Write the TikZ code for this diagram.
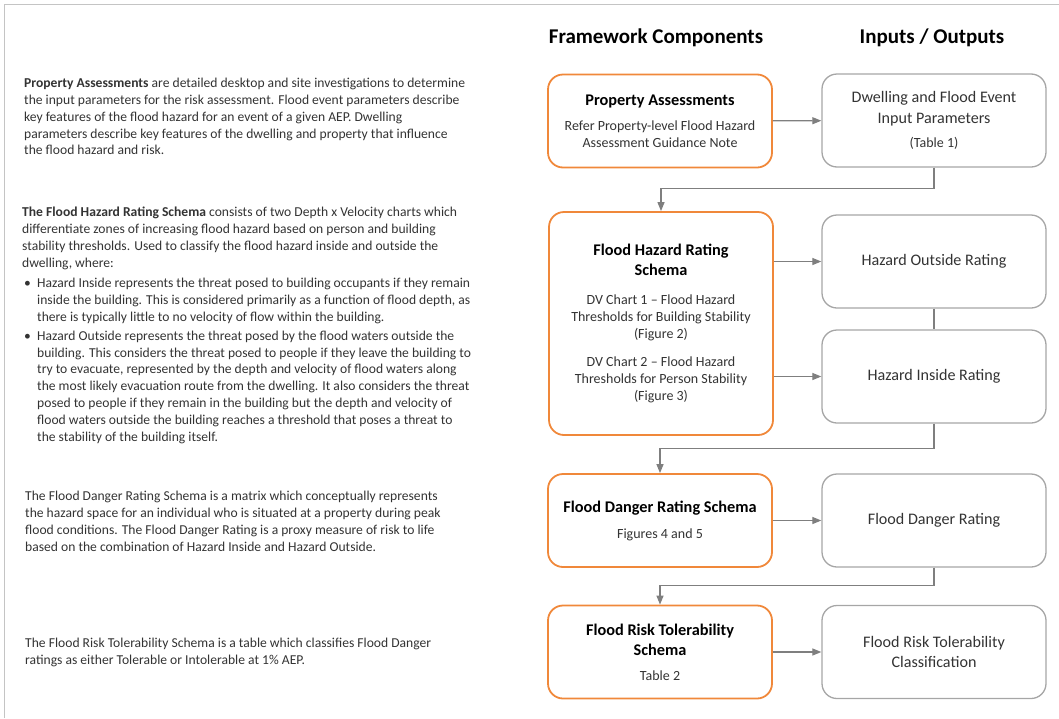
\documentclass[tikz,border=0pt]{standalone}
\usepackage{fontspec}
\setmainfont{Carlito}
\usetikzlibrary{arrows.meta}
\definecolor{orangeln}{HTML}{F0883A}
\definecolor{greyln}{HTML}{A6A6A6}
\definecolor{arrowgrey}{HTML}{7F7F7F}
\definecolor{textgrey}{HTML}{333333}
\definecolor{framegrey}{HTML}{C4C4C4}
\newcommand{\bodyfnt}{\fontsize{13.6}{16.8}\selectfont}
\newcommand{\boxfnt}{\fontsize{14}{17}\selectfont}
\newcommand{\ttlfnt}{\fontsize{16.3}{19.5}\selectfont\bfseries}
\newcommand{\iofnt}{\fontsize{16.1}{20.5}\selectfont}
\newcommand{\bull}{\makebox[15pt][l]{\hspace{2pt}\textbullet}}
\newcommand{\hang}{\hspace*{15pt}}

\begin{document}
\begin{tikzpicture}[x=1pt,y=-1pt,
  comp/.style={draw=orangeln,line width=1.8pt,rounded corners=15pt,
    minimum width=224pt,minimum height=93pt,inner sep=0pt,
    align=center,text=textgrey,font=\boxfnt},
  iobox/.style={draw=greyln,line width=1.3pt,rounded corners=15pt,
    minimum width=224pt,minimum height=93pt,inner sep=0pt,
    align=center,text=textgrey,font=\iofnt},
  header/.style={font=\fontsize{21}{24}\selectfont\bfseries},
  para/.style={anchor=north west,align=left,inner sep=0pt,
    text=textgrey,font=\bodyfnt},
  conn/.style={draw=arrowgrey,line width=1.2pt},
  arr/.style={conn,-{Triangle[length=9pt,width=7pt]}}]
  \useasboundingbox (0,0) rectangle (1059,718);
  \draw[framegrey,line width=1pt] (4,718) -- (4,4) -- (1059,4);

  % column headers
  \node[header] (hdcomp) at (656,38) {Framework Components};
  \node[header] (hdio) at (932,38) {Inputs / Outputs};

  % descriptions on the left
  \node[para] (txtpa) at (24,78)
    {\textbf{Property Assessments} are detailed desktop and site investigations to determine\\
     the input parameters for the risk assessment. Flood event parameters describe\\
     key features of the flood hazard for an event of a given AEP. Dwelling\\
     parameters describe key features of the dwelling and property that influence\\
     the flood hazard and risk.};
  \node[para] (txtfhrs) at (22,207)
    {\textbf{The Flood Hazard Rating Schema} consists of two Depth x Velocity charts which\\
     differentiate zones of increasing flood hazard based on person and building\\
     stability thresholds. Used to classify the flood hazard inside and outside the\\
     dwelling, where:\\[3.5pt]
     \bull Hazard Inside represents the threat posed to building occupants if they remain\\
     \hang inside the building. This is considered primarily as a function of flood depth, as\\
     \hang there is typically little to no velocity of flow within the building.\\[2.5pt]
     \bull Hazard Outside represents the threat posed by the flood waters outside the\\
     \hang building. This considers the threat posed to people if they leave the building to\\
     \hang try to evacuate, represented by the depth and velocity of flood waters along\\
     \hang the most likely evacuation route from the dwelling. It also considers the threat\\
     \hang posed to people if they remain in the building but the depth and velocity of\\
     \hang flood waters outside the building reaches a threshold that poses a threat to\\
     \hang the stability of the building itself.};
  \node[para] (txtfdrs) at (25,491)
    {The Flood Danger Rating Schema is a matrix which conceptually represents\\
     the hazard space for an individual who is situated at a property during peak\\
     flood conditions. The Flood Danger Rating is a proxy measure of risk to life\\
     based on the combination of Hazard Inside and Hazard Outside.};
  \node[para] (txtfrts) at (25,638)
    {The Flood Risk Tolerability Schema is a table which classifies Flood Danger\\
     ratings as either Tolerable or Intolerable at 1\% AEP.};

  % framework components
  \node[comp] (pa) at (660,121)
    {{\ttlfnt\color{black}Property Assessments}\\[8pt]
     Refer Property-level Flood Hazard\\Assessment Guidance Note};
  \node[comp,minimum height=223pt] (fhrs) at (661,323.5)
    {{\ttlfnt\color{black}Flood Hazard Rating}\\[2.5pt]
     {\ttlfnt\color{black}Schema}\\[12pt]
     DV Chart 1 -- Flood Hazard\\Thresholds for Building Stability\\(Figure 2)\\[11pt]
     DV Chart 2 -- Flood Hazard\\Thresholds for Person Stability\\(Figure 3)};
  \node[comp] (fdrs) at (660,520.5)
    {{\ttlfnt\color{black}Flood Danger Rating Schema}\\[9pt]
     Figures 4 and 5};
  \node[comp] (frts) at (660,652)
    {{\ttlfnt\color{black}Flood Risk Tolerability}\\[3pt]
     {\ttlfnt\color{black}Schema}\\[8pt]
     Table 2};

  % inputs and outputs
  \node[iobox] (dfe) at (934,120.5)
    {Dwelling and Flood Event\\Input Parameters\\[4pt]{\boxfnt (Table 1)}};
  \node[iobox] (ho) at (934,261.5) {Hazard Outside Rating};
  \node[iobox] (hi) at (934,376.5) {Hazard Inside Rating};
  \node[iobox] (fdr) at (934,520.5) {Flood Danger Rating};
  \node[iobox] (frtc) at (934,652) {Flood Risk Tolerability\\Classification};

  % connectors
  \draw[arr] (pa) -- (dfe);
  \draw[arr] (dfe.south) -- ++(0,21) -| (fhrs.north);
  \draw[arr] (fhrs.east |- ho) -- (ho);
  \draw[arr] (fhrs.east |- hi) -- (hi);
  \draw[conn] (ho) -- (hi);
  \draw[arr] (hi.south) -- ++(0,25) -| (fdrs.north);
  \draw[arr] (fdrs) -- (fdr);
  \draw[arr] (fdr.south) -- ++(0,18) -| (frts.north);
  \draw[arr] (frts) -- (frtc);
\end{tikzpicture}
\end{document}
